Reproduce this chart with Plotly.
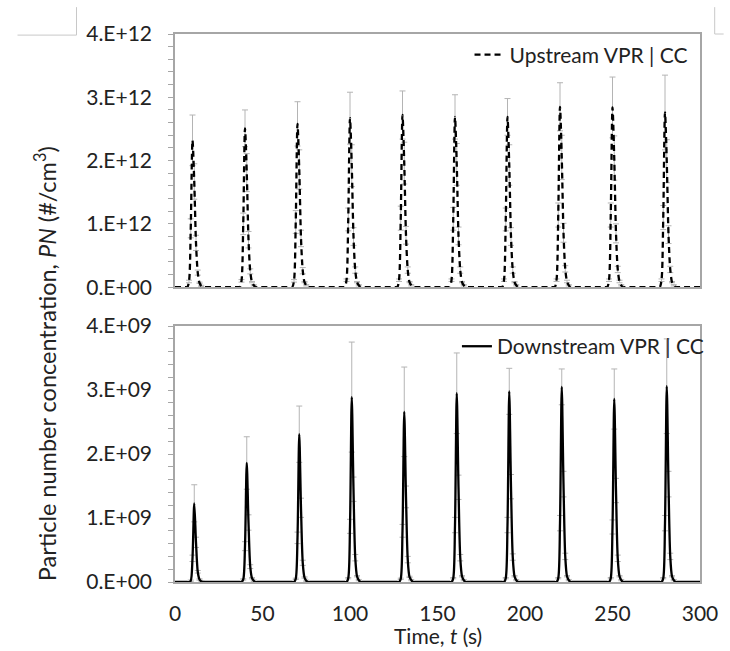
import plotly.graph_objects as go

# ---------------- data ----------------
time_s = list(range(0, 301))
peak_times = [10, 40, 70, 100, 130, 160, 190, 220, 250, 280]

# Upstream (x1e12 #/cm3), samples at peak_time + offset
up_offsets = [-2, -1, 0, 1, 2, 3, 4, 5]
up_vals = [
    [0.09, 0.93, 2.32, 1.67, 0.70, 0.23, 0.07, 0.02],
    [0.10, 1.00, 2.51, 1.81, 0.75, 0.25, 0.08, 0.03],
    [0.10, 1.03, 2.58, 1.86, 0.77, 0.26, 0.08, 0.03],
    [0.11, 1.07, 2.67, 1.92, 0.80, 0.27, 0.08, 0.03],
    [0.11, 1.09, 2.72, 1.96, 0.82, 0.27, 0.08, 0.03],
    [0.11, 1.08, 2.69, 1.94, 0.81, 0.27, 0.08, 0.03],
    [0.11, 1.07, 2.69, 1.93, 0.80, 0.27, 0.08, 0.03],
    [0.11, 1.14, 2.85, 2.05, 0.86, 0.29, 0.09, 0.03],
    [0.11, 1.14, 2.84, 2.04, 0.85, 0.28, 0.09, 0.03],
    [0.11, 1.10, 2.76, 1.99, 0.83, 0.28, 0.08, 0.03],
]
up_errs = [
    [0.02, 0.15, 0.40, 0.28, 0.12, 0.04, 0.01, 0.01],
    [0.02, 0.17, 0.29, 0.30, 0.13, 0.04, 0.01, 0.01],
    [0.02, 0.18, 0.35, 0.31, 0.13, 0.05, 0.01, 0.01],
    [0.02, 0.18, 0.41, 0.33, 0.14, 0.05, 0.01, 0.01],
    [0.02, 0.19, 0.38, 0.33, 0.14, 0.05, 0.01, 0.01],
    [0.02, 0.18, 0.35, 0.33, 0.14, 0.05, 0.01, 0.01],
    [0.02, 0.18, 0.29, 0.32, 0.14, 0.05, 0.01, 0.01],
    [0.02, 0.19, 0.38, 0.35, 0.15, 0.05, 0.02, 0.01],
    [0.02, 0.19, 0.48, 0.35, 0.15, 0.05, 0.02, 0.01],
    [0.02, 0.19, 0.59, 0.34, 0.14, 0.05, 0.01, 0.01],
]

# Downstream (x1e9 #/cm3)
down_offsets = [-1, 0, 1, 2, 3, 4, 5]
down_vals = [
    [0.02, 0.37, 1.23, 0.62, 0.16, 0.04, 0.01],
    [0.04, 0.56, 1.86, 0.93, 0.24, 0.06, 0.02],
    [0.05, 0.69, 2.31, 1.16, 0.30, 0.07, 0.02],
    [0.06, 0.87, 2.89, 1.45, 0.38, 0.09, 0.03],
    [0.05, 0.80, 2.66, 1.33, 0.35, 0.08, 0.03],
    [0.06, 0.89, 2.95, 1.48, 0.38, 0.09, 0.03],
    [0.06, 0.89, 2.98, 1.49, 0.39, 0.09, 0.03],
    [0.06, 0.92, 3.05, 1.53, 0.40, 0.09, 0.03],
    [0.06, 0.86, 2.86, 1.43, 0.37, 0.09, 0.03],
    [0.06, 0.92, 3.06, 1.53, 0.40, 0.09, 0.03],
]
down_errs = [
    [0.01, 0.05, 0.29, 0.08, 0.02, 0.01, 0.01],
    [0.01, 0.07, 0.41, 0.12, 0.03, 0.01, 0.01],
    [0.01, 0.09, 0.44, 0.15, 0.04, 0.01, 0.01],
    [0.01, 0.11, 0.86, 0.19, 0.05, 0.01, 0.01],
    [0.01, 0.10, 0.70, 0.17, 0.05, 0.01, 0.01],
    [0.01, 0.12, 0.63, 0.19, 0.05, 0.01, 0.01],
    [0.01, 0.12, 0.36, 0.19, 0.05, 0.01, 0.01],
    [0.01, 0.12, 0.28, 0.20, 0.05, 0.01, 0.01],
    [0.01, 0.11, 0.47, 0.19, 0.05, 0.01, 0.01],
    [0.01, 0.12, 0.74, 0.20, 0.05, 0.01, 0.01],
]

up_ticks = [0, 1e12, 2e12, 3e12, 4e12]
up_ticktext = ["0.E+00", "1.E+12", "2.E+12", "3.E+12", "4.E+12"]
down_ticks = [0, 1e9, 2e9, 3e9, 4e9]
down_ticktext = ["0.E+00", "1.E+09", "2.E+09", "3.E+09", "4.E+09"]
x_ticks = [0, 50, 100, 150, 200, 250, 300]


def build(offsets, vals, errs, scale):
    y = [0.0] * len(time_s)
    ex, ey, ee = [], [], []
    for c, row_v, row_e in zip(peak_times, vals, errs):
        for off, v, e in zip(offsets, row_v, row_e):
            y[time_s.index(c + off)] = v * scale
            ex.append(c + off)
            ey.append(v * scale)
            ee.append(e * scale)
    return y, ex, ey, ee


up_y, up_ex, up_ey, up_ee = build(up_offsets, up_vals, up_errs, 1e12)
dn_y, dn_ex, dn_ey, dn_ee = build(down_offsets, down_vals, down_errs, 1e9)

FONT = "Lato"
GRAY = "#a6a6a6"
ERR = "#b4b4b4"
TXT = "#222222"

fig = go.Figure()

# error bars (under the lines)
fig.add_trace(go.Scatter(x=up_ex, y=up_ey, mode="markers", xaxis="x", yaxis="y",
                         marker=dict(size=1, color="rgba(0,0,0,0)"),
                         error_y=dict(type="data", array=up_ee, color=ERR, thickness=1, width=3),
                         showlegend=False, hoverinfo="skip"))
fig.add_trace(go.Scatter(x=dn_ex, y=dn_ey, mode="markers", xaxis="x2", yaxis="y2",
                         marker=dict(size=1, color="rgba(0,0,0,0)"),
                         error_y=dict(type="data", array=dn_ee, color=ERR, thickness=1, width=3),
                         showlegend=False, hoverinfo="skip"))

fig.add_trace(go.Scatter(x=time_s, y=up_y, mode="lines", xaxis="x", yaxis="y",
                         name="Upstream VPR | CC", legend="legend",
                         line=dict(color="black", width=2.3, dash="6px,4px", shape="spline", smoothing=0.8)))
fig.add_trace(go.Scatter(x=time_s, y=dn_y, mode="lines", xaxis="x2", yaxis="y2",
                         name="Downstream VPR | CC", legend="legend2",
                         line=dict(color="black", width=2.3, shape="spline", smoothing=0.8)))

axis_common = dict(showline=True, mirror=True, linecolor=GRAY, linewidth=1.5,
                   showgrid=False, zeroline=False)

fig.update_layout(
    width=730, height=651,
    margin=dict(l=175, r=22, t=34, b=69),
    paper_bgcolor="white", plot_bgcolor="white",
    font=dict(family=FONT, size=21, color=TXT),
    xaxis=dict(domain=[0, 1], anchor="y", range=[0, 300], tickvals=x_ticks,
               showticklabels=False, ticks="", **axis_common),
    yaxis=dict(domain=[0.538, 1], anchor="x", range=[0, 4e12], tickvals=up_ticks,
               ticktext=up_ticktext, ticks="outside", ticklen=5, tickcolor=GRAY,
               tickwidth=1.2, ticklabelstandoff=12,
               minor=dict(ticks="outside", ticklen=5, dtick=0.2e12, tickcolor=GRAY, tickwidth=1.2),
               **axis_common),
    xaxis2=dict(domain=[0, 1], anchor="y2", range=[0, 300], tickvals=x_ticks,
                ticks="", ticklabelstandoff=12, **axis_common),
    yaxis2=dict(domain=[0, 0.467], anchor="x2", range=[0, 4e9], tickvals=down_ticks,
                ticktext=down_ticktext, ticks="outside", ticklen=5, tickcolor=GRAY,
                tickwidth=1.2, ticklabelstandoff=12,
                minor=dict(ticks="outside", ticklen=5, dtick=0.2e9, tickcolor=GRAY, tickwidth=1.2),
                **axis_common),
    legend=dict(x=0.561, y=0.999, xanchor="left", yanchor="top", bgcolor="rgba(0,0,0,0)",
                font=dict(family=FONT, size=21, color=TXT), itemwidth=30,
                tracegroupgap=0),
    legend2=dict(x=0.537, y=0.467, xanchor="left", yanchor="top", bgcolor="rgba(0,0,0,0)",
                 font=dict(family=FONT, size=21, color=TXT), itemwidth=30,
                 tracegroupgap=0),
    annotations=[
        dict(text="Particle number concentration, <i>PN</i> (#/cm<sup>3</sup>)",
             xref="paper", yref="paper", x=-0.245, y=0.398, textangle=-90,
             showarrow=False, font=dict(family=FONT, size=23.5, color=TXT),
             xanchor="center", yanchor="middle"),
        dict(text="Time, <i>t</i> (s)", xref="paper", yref="paper", x=0.5, y=-0.098,
             showarrow=False, font=dict(family=FONT, size=21, color=TXT),
             xanchor="center", yanchor="middle"),
    ],
    shapes=[
        dict(type="line", xref="paper", yref="paper", x0=-0.300, x1=-0.1876, y0=0.998, y1=0.998,
             line=dict(color="#c8c8c8", width=1)),
        dict(type="line", xref="paper", yref="paper", x0=-0.1876, x1=-0.1876, y0=0.998, y1=1.049,
             line=dict(color="#c8c8c8", width=1)),
        dict(type="line", xref="paper", yref="paper", x0=1.028, x1=1.028, y0=1.0, y1=1.049,
             line=dict(color="#c8c8c8", width=1)),
        dict(type="line", xref="paper", yref="paper", x0=1.028, x1=1.045, y0=1.0, y1=1.0,
             line=dict(color="#c8c8c8", width=1)),
    ],
)

fig.write_html("out.html")
